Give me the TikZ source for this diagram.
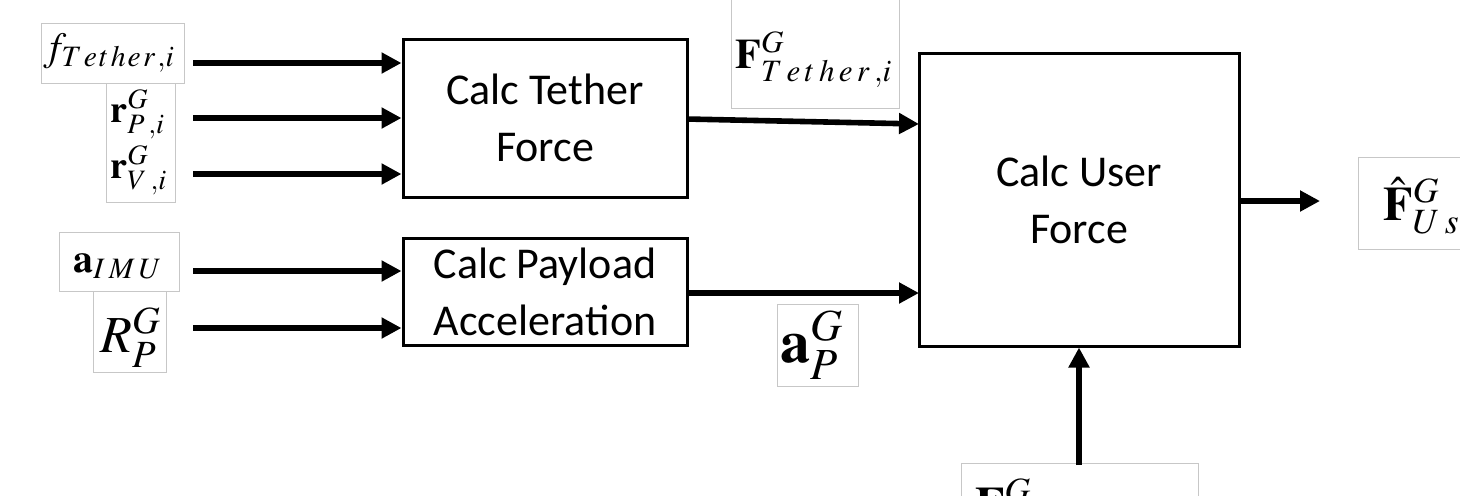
\documentclass[tikz,border=0pt]{standalone}
\usepackage{mathptmx}
\usepackage[no-math]{fontspec}
\setmainfont{Carlito}
\usetikzlibrary{arrows.meta}
\newcommand{\lsp}{\mkern2.5mu}
\newcommand{\ssp}{\mkern1.3mu}
\tikzset{
  blk/.style={draw=black, line width=1.5pt, fill=white, align=center,
    font=\fontsize{22}{28.5}\selectfont, inner sep=0pt},
  arr/.style={line width=2.8pt, -{Triangle[length=10pt,width=10pt]}},
  frm/.style={draw=black!22, line width=0.5pt, fill=white},
  lbl/.style={inner sep=0pt, anchor=base west},
}
\begin{document}
\begin{tikzpicture}[x=0.5pt,y=-0.5pt]
\useasboundingbox (0,0) rectangle (1460,495);
\clip (0,0) rectangle (1460,495);
% label frames
\draw[frm] (41,23) rectangle (184,83);
\draw[frm] (106,83) rectangle (175,202);
\draw[frm] (59,232) rectangle (179,291);
\draw[frm] (93,291) rectangle (166,372);
\draw[frm] (731,-5) rectangle (899,108);
\draw[frm] (777,304) rectangle (858,386);
\draw[frm] (1358,157) rectangle (1470,249);
\draw[frm] (961,463) rectangle (1198,520);
% label texts
\node[lbl, font=\fontsize{20}{24}\selectfont] (fT) at (43,60) {$f_{T\ssp e\ssp t\ssp h\ssp e\ssp r\ssp ,i}$};
\node[lbl, font=\fontsize{19}{24}\selectfont] (rP) at (110,122) {$\mathbf{r}^{G}_{P\lsp ,i}$};
\node[lbl, font=\fontsize{19}{24}\selectfont] (rV) at (110,178) {$\mathbf{r}^{G}_{V\lsp ,i}$};
\node[lbl, font=\fontsize{20}{24}\selectfont] (aI) at (73,272) {$\mathbf{a}_{I\lsp M\lsp U}$};
\node[lbl, font=\fontsize{26}{30}\selectfont] (RP) at (100,352) {$R^{G}_{P}$};
\node[lbl, font=\fontsize{21}{26}\selectfont] (FT) at (735,68) {$\mathbf{F}^{G}_{T\lsp e\lsp t\lsp h\lsp e\lsp r\lsp ,i}$};
\node[lbl, font=\fontsize{30}{34}\selectfont] (aP) at (780,362) {$\mathbf{a}^{G}_{P}$};
\node[lbl, font=\fontsize{24}{28}\selectfont] (FU) at (1383,220) {$\hat{\mathbf{F}}^{G}_{U\lsp s\lsp e\lsp r}$};
\node[lbl, font=\fontsize{24}{28}\selectfont] (FB) at (975,520) {$\mathbf{F}^{G}$};
% blocks
\node[blk, minimum width=142pt, minimum height=79pt] (tb) at (545,118) {Calc Tether\\Force};
\node[blk, minimum width=142pt, minimum height=53.5pt] (pb) at (545,291.5) {Calc Payload\\Acceleration};
\node[blk, minimum width=160pt, minimum height=146.5pt] (ub) at (1079,199.5) {Calc User\\Force};
% arrow coordinates
\coordinate (s1) at (193,63);
\coordinate (s2) at (193,118);
\coordinate (s3) at (193,174);
\coordinate (s4) at (193,271);
\coordinate (s5) at (193,328);
\coordinate (t1) at (687,119);
\coordinate (t2) at (919,124);
\coordinate (p1) at (687,293);
\coordinate (p2) at (919,293);
\coordinate (o1) at (1320,201);
\coordinate (b1) at (1079,465);
% arrows
\draw[arr] (s1) -- (s1 -| tb.west);
\draw[arr] (s2) -- (s2 -| tb.west);
\draw[arr] (s3) -- (s3 -| tb.west);
\draw[arr] (s4) -- (s4 -| pb.west);
\draw[arr] (s5) -- (s5 -| pb.west);
\draw[arr] (t1) -- (t2);
\draw[arr] (p1) -- (p2);
\draw[arr] (o1 -| ub.east) -- (o1);
\draw[arr] (b1) -- (ub.south);
\end{tikzpicture}
\end{document}
